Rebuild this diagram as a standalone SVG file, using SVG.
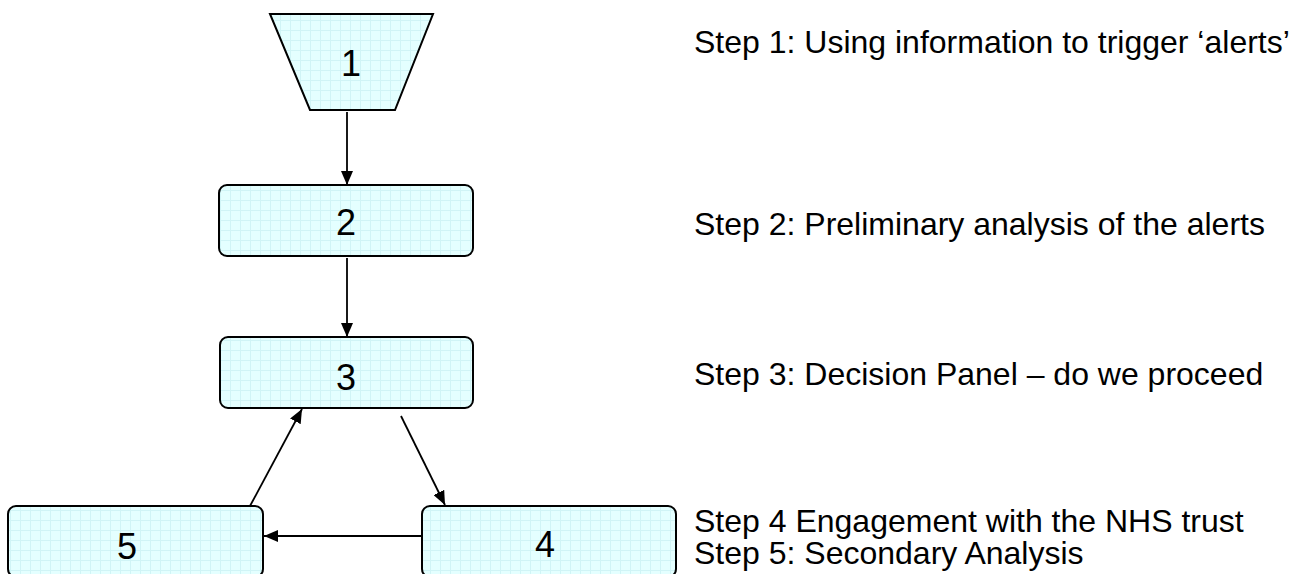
<svg xmlns="http://www.w3.org/2000/svg" width="1305" height="574" viewBox="0 0 1305 574">
<style>
.node{fill:url(#grid);stroke:#000;stroke-width:2}
.num{font-family:"Liberation Sans",Arial,sans-serif;font-size:36px;fill:#000;text-anchor:middle}
.lbl{font-family:"Liberation Sans",Arial,sans-serif;font-size:32px;fill:#000}
.conn{stroke:#000;stroke-width:1.8;fill:none;marker-end:url(#arr)}
</style>
<defs>
<pattern id="grid" width="10" height="10" patternUnits="userSpaceOnUse">
<rect width="10" height="10" fill="#e4ffff"/>
<path d="M0 0.5H10M0.5 0V10" stroke="#d0f4f6" stroke-width="1"/>
</pattern>
<marker id="arr" viewBox="0 0 14 12" refX="14" refY="6" markerWidth="14" markerHeight="12" markerUnits="userSpaceOnUse" orient="auto">
<path d="M0 0L14 6L0 12Z" fill="#000"/>
</marker>
</defs>
<rect width="1305" height="574" fill="#fff"/>
<g id="connectors">
<line class="conn" x1="347" y1="112" x2="347" y2="185"/>
<line class="conn" x1="347" y1="258" x2="347" y2="337"/>
<line class="conn" x1="401" y1="416" x2="445" y2="505"/>
<line class="conn" x1="422" y1="536" x2="264" y2="536"/>
<line class="conn" x1="250" y1="506" x2="302" y2="409"/>
</g>
<g id="node1">
<polygon class="node" points="270,14 433,14 395,110 310,110"/>
<text class="num" x="351" y="76">1</text>
</g>
<g id="node2">
<rect class="node" x="219" y="185" width="254" height="71" rx="8"/>
<text class="num" x="346" y="235">2</text>
</g>
<g id="node3">
<rect class="node" x="220" y="337" width="253" height="71" rx="8"/>
<text class="num" x="346" y="390">3</text>
</g>
<g id="node4">
<rect class="node" x="422" y="506" width="254" height="71" rx="8"/>
<text class="num" x="545" y="557">4</text>
</g>
<g id="node5">
<rect class="node" x="8" y="506" width="255" height="71" rx="8"/>
<text class="num" x="127" y="559">5</text>
</g>
<g id="labels">
<text class="lbl" x="694" y="53">Step 1: Using information to trigger ‘alerts’</text>
<text class="lbl" x="694" y="235">Step 2: Preliminary analysis of the alerts</text>
<text class="lbl" x="694" y="385">Step 3: Decision Panel – do we proceed</text>
<text class="lbl" x="694" y="532">Step 4 Engagement with the NHS trust</text>
<text class="lbl" x="694" y="564">Step 5: Secondary Analysis</text>
</g>
</svg>
